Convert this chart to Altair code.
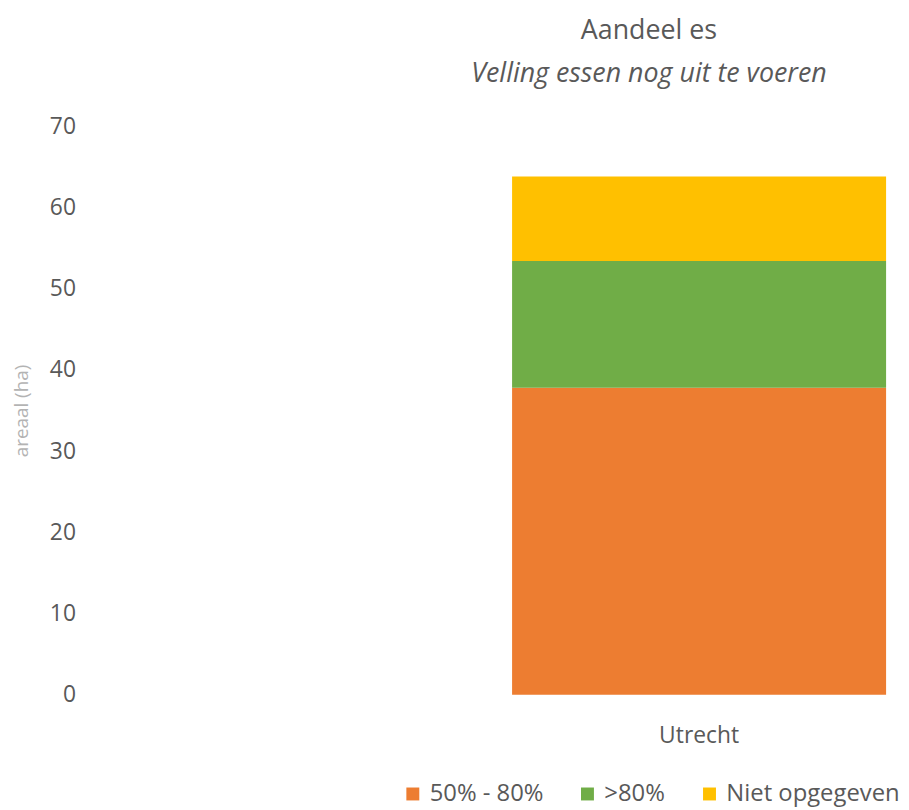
import altair as alt
import pandas as pd

# Data
categories = ["Utrecht"]
series = ["50% - 80%", ">80%", "Niet opgegeven"]
values = [37.8, 15.6, 10.4]
colors = ["#ED7D31", "#70AD47", "#FFC000"]
y_ticks = [0, 10, 20, 30, 40, 50, 60, 70]

df = pd.DataFrame({
    "regio": [categories[0]] * len(series),
    "klasse": series,
    "areaal": values,
    "volgorde": list(range(len(series))),
})

FONT = "Open Sans"
GRAY = "#595959"

chart = alt.Chart(df).mark_bar().encode(
    x=alt.X(
        "regio:N",
        scale=alt.Scale(domain=["_"] + categories, paddingInner=0.06, paddingOuter=0.03),
        axis=alt.Axis(
            title=None, labelAngle=0, ticks=False, domain=False,
            labelExpr="datum.value == '_' ? '' : datum.value",
            labelFont=FONT, labelFontSize=23, labelColor=GRAY, labelPadding=30,
        ),
    ),
    y=alt.Y(
        "areaal:Q",
        stack="zero",
        scale=alt.Scale(domain=[0, 70], nice=False),
        axis=alt.Axis(
            values=y_ticks, title="areaal (ha)", grid=False, ticks=False, domain=False,
            labelFont=FONT, labelFontSize=23, labelColor=GRAY, labelPadding=27,
            titleFont=FONT, titleFontSize=19, titleColor="#B3B3B3",
            titleFontWeight="normal", titlePadding=18,
        ),
    ),
    color=alt.Color(
        "klasse:N",
        scale=alt.Scale(domain=series, range=colors),
        legend=alt.Legend(
            title=None, orient="none", direction="horizontal",
            legendX=301, legendY=661,
            symbolType="square", symbolSize=170, symbolStrokeWidth=0,
            labelFont=FONT, labelFontSize=24, labelColor=GRAY, labelLimit=0,
            columnPadding=32, labelOffset=5,
        ),
    ),
    order=alt.Order("volgorde:Q"),
).properties(
    width=802,
    height=573,
    autosize="none",
    padding={"left": 95, "top": 116, "right": 3, "bottom": 113},
    title=alt.TitleParams(
        text="Aandeel es",
        subtitle="Velling essen nog uit te voeren",
        font=FONT, fontSize=27, fontWeight="normal", color=GRAY,
        subtitleFont=FONT, subtitleFontSize=27, subtitleFontStyle="italic",
        subtitleColor=GRAY, subtitlePadding=16,
        anchor="middle", dx=150, offset=28,
    ),
).configure_view(stroke=None)

chart.save("out.html", embed_options={"renderer": "svg", "actions": False})
